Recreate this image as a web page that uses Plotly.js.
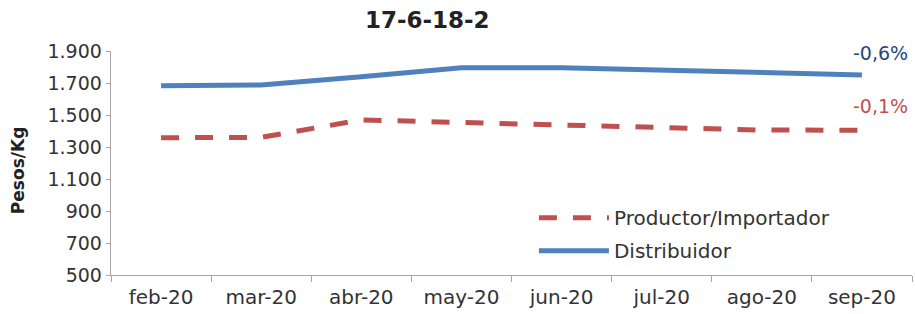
<!DOCTYPE html>
<html><head><meta charset="utf-8">
<script src="https://cdn.plot.ly/plotly-3.0.1.min.js"></script>
<style>body{margin:0;background:#fff}#c{width:915px;height:314px}</style>
</head><body><div id="c"></div>
<script>
const months = ["feb-20","mar-20","abr-20","may-20","jun-20","jul-20","ago-20","sep-20"];
const productor = [1358, 1360, 1469, 1454, 1437, 1417, 1406, 1405];
const distribuidor = [1683, 1688, 1739, 1796, 1796, 1781, 1760, 1750];
const labelProd = "-0,1%";
const labelDist = "-0,6%";
const yTicks = [500, 700, 900, 1100, 1300, 1500, 1700, 1900];

const F = "DejaVu Sans, sans-serif";
const traces = [
  {x: months, y: productor, name: "Productor/Importador", mode: "lines", legendgroup: "a",
   line: {color: "#C0504D", width: 5, dash: "18px,16px"}},
  {x: months, y: distribuidor, name: "Distribuidor", mode: "lines", legendgroup: "b",
   line: {color: "#4F81BD", width: 5}}
];
const layout = {
  width: 915, height: 314,
  margin: {l: 111, r: 3, t: 51, b: 39},
  paper_bgcolor: "#fff", plot_bgcolor: "#fff",
  separators: ",.",
  font: {family: F, size: 19, color: "#333"},
  title: {text: "<b>17-6-18-2</b>", x: 0.467, xref: "container", y: 0.935, yref: "container",
          xanchor: "center", yanchor: "middle", font: {size: 23, color: "#222", family: F}},
  xaxis: {type: "category", showline: true, linecolor: "#A6A6A6", linewidth: 1.3,
          ticks: "outside", tickson: "boundaries", ticklen: 6, tickcolor: "#A6A6A6",
          ticklabelstandoff: 4,
          showgrid: false, tickfont: {size: 20, color: "#333"}, range: [-0.5, 7.5]},
  yaxis: {range: [500, 1900], tickvals: yTicks, tickformat: ",d", showline: true,
          linecolor: "#A6A6A6", linewidth: 1.3, ticks: "outside", ticklen: 4, tickcolor: "#A6A6A6",
          showgrid: false, zeroline: false, tickfont: {size: 19, color: "#333"}},
  showlegend: true,
  legend: {x: 0.528, y: 0.343, xanchor: "left", yanchor: "top", bgcolor: "rgba(0,0,0,0)",
           font: {size: 20, color: "#333"}, itemwidth: 70, traceorder: "grouped", tracegroupgap: 4},
  annotations: [
    {xref: "paper", yref: "paper", x: -0.116, y: 0.464, text: "<b>Pesos/Kg</b>", textangle: -90,
     showarrow: false, xanchor: "center", yanchor: "middle", font: {size: 17, color: "#222"}},
    {x: months[7], y: distribuidor[7], text: labelDist, showarrow: false, xanchor: "left",
     yanchor: "middle", xshift: -11, yshift: 22, font: {size: 19, color: "#1F497D"}},
    {x: months[7], y: productor[7], text: labelProd, showarrow: false, xanchor: "left",
     yanchor: "middle", xshift: -11, yshift: 24, font: {size: 19, color: "#C0504D"}}
  ]
};
Plotly.newPlot("c", traces, layout, {displayModeBar: false, staticPlot: true});
</script></body></html>
